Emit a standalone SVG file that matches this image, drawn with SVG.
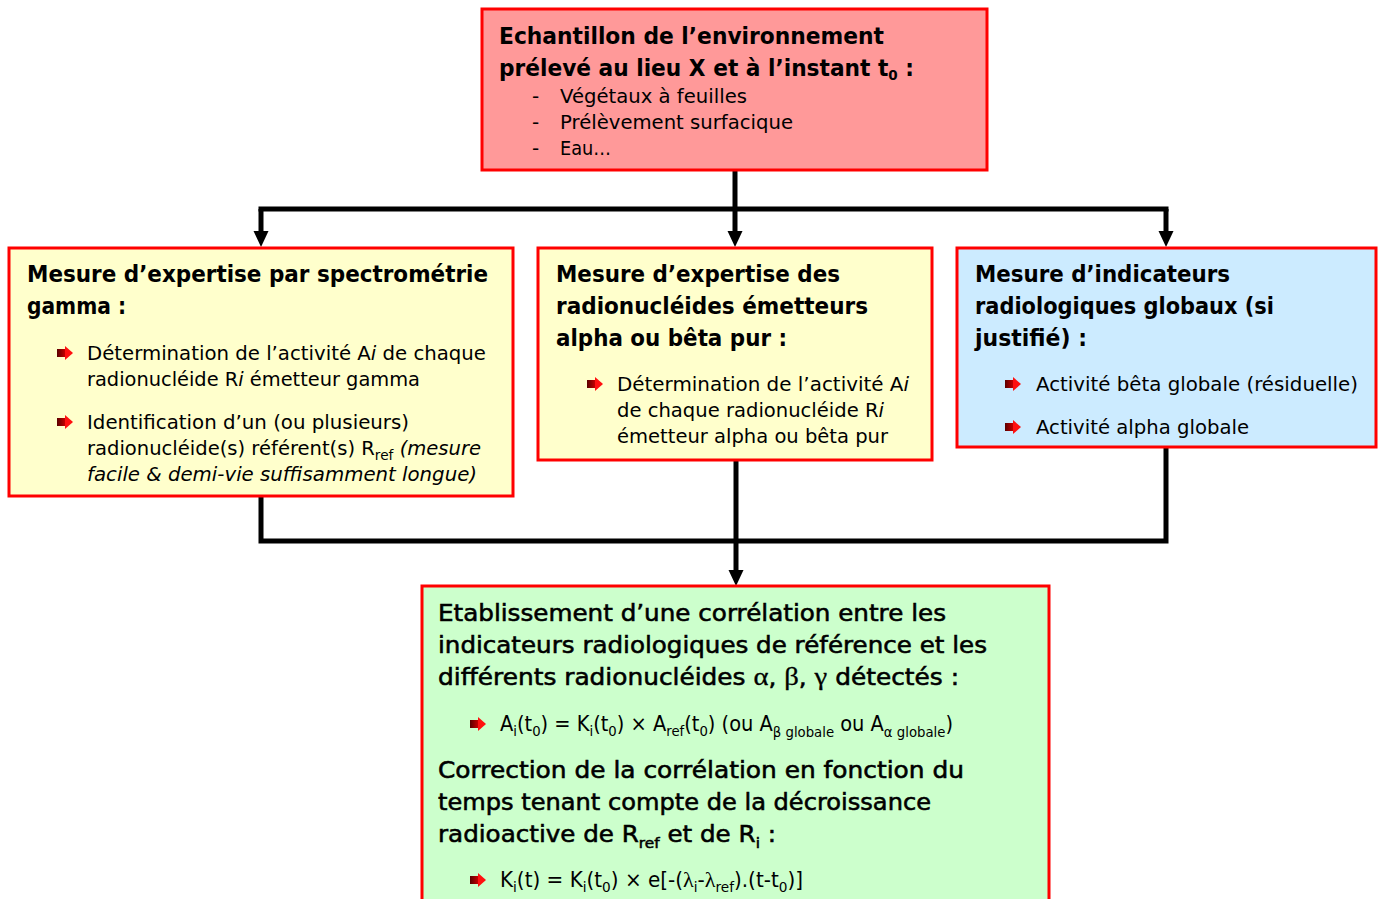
<svg xmlns="http://www.w3.org/2000/svg" width="1384" height="899" viewBox="0 0 1384 899">
<style>
.box{stroke:#FF0000;stroke-width:3}
.t{font-family:"DejaVu Sans","Liberation Sans",sans-serif;font-weight:bold;font-size:22.5px;fill:#000}
.m{font-family:"DejaVu Sans","Liberation Sans",sans-serif;font-size:22.5px;fill:#000;stroke:#000;stroke-width:0.55}
.b{font-family:"DejaVu Sans","Liberation Sans",sans-serif;font-size:20px;fill:#000}
.f{font-family:"DejaVu Sans Condensed","DejaVu Sans",sans-serif;font-size:20.5px;fill:#000}
.s{font-size:14px}
.it{font-style:italic}
.g{font-family:"Liberation Serif",serif;stroke-width:0.3}
.gb{font-family:"Liberation Serif",serif;font-size:26px;stroke-width:0.3}
.conn{fill:none;stroke:#000;stroke-width:5}
</style>
<defs>
<linearGradient id="bg" x1="0" y1="0" x2="1" y2="0">
<stop offset="0" stop-color="#5a0000"/>
<stop offset="1" stop-color="#d00000"/>
</linearGradient>
<symbol id="bul" overflow="visible">
<rect x="0" y="-4" width="9" height="8" fill="url(#bg)"/>
<polygon points="8,-7 16,0 8,7" fill="#FF1010"/>
</symbol>
<marker id="ah" viewBox="0 -8 16 16" refX="0" refY="0" markerWidth="16" markerHeight="16" markerUnits="userSpaceOnUse" orient="auto">
<path d="M0,-7.5 L16,0 L0,7.5 z" fill="#000"/>
</marker>
</defs>
<rect width="1384" height="899" fill="#FFFFFF"/>

<g id="connectors">
<path class="conn" d="M735,170 V209"/>
<path class="conn" d="M261,209 H1166" stroke-linecap="square"/>
<path class="conn" d="M261,209 V231" marker-end="url(#ah)"/>
<path class="conn" d="M735,209 V231" marker-end="url(#ah)"/>
<path class="conn" d="M1166,209 V231" marker-end="url(#ah)"/>
<path class="conn" d="M261,496 V541 H1166 V448"/>
<path class="conn" d="M736,460 V570" marker-end="url(#ah)"/>
</g>

<g id="node-echantillon">
<rect class="box" x="482" y="9" width="505" height="161" fill="#FF9999"/>
<text class="t" x="499" y="44" textLength="385" lengthAdjust="spacingAndGlyphs">Echantillon de l’environnement</text>
<text class="t" x="499" y="76" textLength="415" lengthAdjust="spacingAndGlyphs">prélevé au lieu X et à l’instant t<tspan class="s" dy="4">0</tspan><tspan dy="-4"> :</tspan></text>
<text class="b" x="532" y="103">-</text>
<text class="b" x="532" y="129">-</text>
<text class="b" x="532" y="155">-</text>
<text class="b" x="560" y="103" textLength="187" lengthAdjust="spacingAndGlyphs">Végétaux à feuilles</text>
<text class="b" x="560" y="129" textLength="233" lengthAdjust="spacingAndGlyphs">Prélèvement surfacique</text>
<text class="b" x="560" y="155" textLength="51" lengthAdjust="spacingAndGlyphs">Eau…</text>
</g>

<g id="node-gamma">
<rect class="box" x="9" y="248" width="504" height="248" fill="#FFFFCC"/>
<text class="t" x="27" y="282" textLength="461" lengthAdjust="spacingAndGlyphs">Mesure d’expertise par spectrométrie</text>
<text class="t" x="27" y="314" textLength="99" lengthAdjust="spacingAndGlyphs">gamma :</text>
<use href="#bul" x="57" y="353"/>
<text class="b" x="87" y="360" textLength="399" lengthAdjust="spacingAndGlyphs">Détermination de l’activité A<tspan class="it">i</tspan> de chaque</text>
<text class="b" x="87" y="386" textLength="333" lengthAdjust="spacingAndGlyphs">radionucléide R<tspan class="it">i</tspan> émetteur gamma</text>
<use href="#bul" x="57" y="422"/>
<text class="b" x="87" y="429" textLength="322" lengthAdjust="spacingAndGlyphs">Identification d’un (ou plusieurs)</text>
<text class="b" x="87" y="455" textLength="394" lengthAdjust="spacingAndGlyphs">radionucléide(s) référent(s) R<tspan class="s" dy="5">ref</tspan><tspan class="it" dy="-5"> (mesure</tspan></text>
<text class="b it" x="87" y="481" textLength="390" lengthAdjust="spacingAndGlyphs">facile &amp; demi-vie suffisamment longue)</text>
</g>

<g id="node-alpha-beta">
<rect class="box" x="538" y="248" width="394" height="212" fill="#FFFFCC"/>
<text class="t" x="556" y="282" textLength="284" lengthAdjust="spacingAndGlyphs">Mesure d’expertise des</text>
<text class="t" x="556" y="314" textLength="312" lengthAdjust="spacingAndGlyphs">radionucléides émetteurs</text>
<text class="t" x="556" y="346" textLength="231" lengthAdjust="spacingAndGlyphs">alpha ou bêta pur :</text>
<use href="#bul" x="587" y="384"/>
<text class="b" x="617" y="391" textLength="292" lengthAdjust="spacingAndGlyphs">Détermination de l’activité A<tspan class="it">i</tspan></text>
<text class="b" x="617" y="417" textLength="267" lengthAdjust="spacingAndGlyphs">de chaque radionucléide R<tspan class="it">i</tspan></text>
<text class="b" x="617" y="443" textLength="271" lengthAdjust="spacingAndGlyphs">émetteur alpha ou bêta pur</text>
</g>

<g id="node-globaux">
<rect class="box" x="957" y="248" width="419" height="199" fill="#CCEBFF"/>
<text class="t" x="975" y="282" textLength="255" lengthAdjust="spacingAndGlyphs">Mesure d’indicateurs</text>
<text class="t" x="975" y="314" textLength="299" lengthAdjust="spacingAndGlyphs">radiologiques globaux (si</text>
<text class="t" x="975" y="346" textLength="112" lengthAdjust="spacingAndGlyphs">justifié) :</text>
<use href="#bul" x="1005" y="384"/>
<text class="b" x="1036" y="391" textLength="322" lengthAdjust="spacingAndGlyphs">Activité bêta globale (résiduelle)</text>
<use href="#bul" x="1005" y="427"/>
<text class="b" x="1036" y="434" textLength="213" lengthAdjust="spacingAndGlyphs">Activité alpha globale</text>
</g>

<g id="node-correlation">
<rect class="box" x="422" y="586" width="627" height="340" fill="#CCFFCC"/>
<text class="m" x="438" y="621" textLength="508" lengthAdjust="spacingAndGlyphs">Etablissement d’une corrélation entre les</text>
<text class="m" x="438" y="653" textLength="549" lengthAdjust="spacingAndGlyphs">indicateurs radiologiques de référence et les</text>
<text class="m" x="438" y="685" textLength="521" lengthAdjust="spacingAndGlyphs">différents radionucléides <tspan class="gb">α</tspan>, <tspan class="gb">β</tspan>, <tspan class="gb">γ</tspan> détectés :</text>
<use href="#bul" x="470" y="724"/>
<text class="f" x="500" y="731" textLength="453" lengthAdjust="spacingAndGlyphs">A<tspan class="s" dy="5">i</tspan><tspan dy="-5">(t</tspan><tspan class="s" dy="5">0</tspan><tspan dy="-5">) = K</tspan><tspan class="s" dy="5">i</tspan><tspan dy="-5">(t</tspan><tspan class="s" dy="5">0</tspan><tspan dy="-5">) × A</tspan><tspan class="s" dy="5">ref</tspan><tspan dy="-5">(t</tspan><tspan class="s" dy="5">0</tspan><tspan dy="-5">) (ou A</tspan><tspan class="s" dy="6">β globale</tspan><tspan dy="-6"> ou A</tspan><tspan class="s" dy="6">α globale</tspan><tspan dy="-6">)</tspan></text>
<text class="m" x="438" y="778" textLength="526" lengthAdjust="spacingAndGlyphs">Correction de la corrélation en fonction du</text>
<text class="m" x="438" y="810" textLength="493" lengthAdjust="spacingAndGlyphs">temps tenant compte de la décroissance</text>
<text class="m" x="438" y="842" textLength="338" lengthAdjust="spacingAndGlyphs">radioactive de R<tspan class="s" dy="6">ref</tspan><tspan dy="-6"> et de R</tspan><tspan class="s" dy="6">i</tspan><tspan dy="-6"> :</tspan></text>
<use href="#bul" x="470" y="880"/>
<text class="f" x="500" y="887" textLength="303" lengthAdjust="spacingAndGlyphs">K<tspan class="s" dy="5">i</tspan><tspan dy="-5">(t) = K</tspan><tspan class="s" dy="5">i</tspan><tspan dy="-5">(t</tspan><tspan class="s" dy="5">0</tspan><tspan dy="-5">) × e[-(</tspan><tspan class="g">λ</tspan><tspan class="s" dy="5">i</tspan><tspan dy="-5">-</tspan><tspan class="g">λ</tspan><tspan class="s" dy="5">ref</tspan><tspan dy="-5">).(t-t</tspan><tspan class="s" dy="5">0</tspan><tspan dy="-5">)]</tspan></text>
</g>
</svg>
